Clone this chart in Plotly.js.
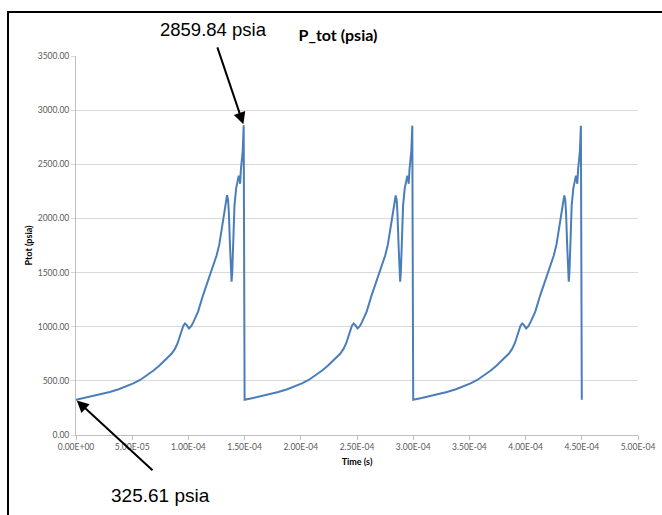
<!DOCTYPE html>
<html>
<head>
<meta charset="utf-8">
<script src="https://cdn.plot.ly/plotly-3.0.1.min.js"></script>
<style>
  html, body { margin: 0; padding: 0; background: #fff; }
  #chart { width: 662px; height: 515px; }
</style>
</head>
<body>
<div id="chart"></div>
<script>
// Time in microseconds, pressure in psia
const cycle1Time = [0, 7.5, 15, 22, 30, 38, 45, 51, 57, 63, 69, 74, 80, 85, 88, 90.5, 93, 95.5, 97, 98.5, 100.5, 102.5, 104.5, 108.6, 113, 117, 120.5, 125, 127.5, 129.5, 132.3, 134.4, 135.3, 136, 137, 138, 138.4, 139, 139.8, 141, 142.5, 144.2, 144.8, 145.5, 146, 146.7, 147.5, 148.3, 149.2];
const cycle1P    = [325.61, 342, 359, 377, 397, 422, 450, 477, 508, 548, 595, 640, 695, 750, 795, 850, 930, 1010, 1030, 1015, 985, 1005, 1045, 1139, 1290, 1410, 1505, 1655, 1760, 1900, 2078, 2215, 2170, 2050, 1750, 1480, 1416, 1500, 1780, 2120, 2280, 2380, 2395, 2360, 2320, 2450, 2540, 2620, 2859.84];

const cycle2Time = [150, 157.5, 165, 172, 180, 188, 195, 201, 207, 213, 219, 224, 230, 235, 238, 240.5, 243, 245.5, 247, 248.5, 250.5, 252.5, 254.5, 258.6, 263, 267, 270.5, 275, 277.5, 279.5, 282.3, 284.4, 285.3, 286, 287, 288, 288.4, 289, 289.8, 291, 292.5, 294.2, 294.8, 295.5, 296, 296.7, 297.5, 298.3, 299.2];
const cycle2P    = [325.61, 342, 359, 377, 397, 422, 450, 477, 508, 548, 595, 640, 695, 750, 795, 850, 930, 1010, 1030, 1015, 985, 1005, 1045, 1139, 1290, 1410, 1505, 1655, 1760, 1900, 2078, 2212, 2170, 2050, 1750, 1480, 1416, 1500, 1780, 2120, 2280, 2380, 2395, 2360, 2320, 2450, 2540, 2620, 2857];

const cycle3Time = [300, 307.5, 315, 322, 330, 338, 345, 351, 357, 363, 369, 374, 380, 385, 388, 390.5, 393, 395.5, 397, 398.5, 400.5, 402.5, 404.5, 408.6, 413, 417, 420.5, 425, 427.5, 429.5, 432.3, 434.4, 435.3, 436, 437, 438, 438.4, 439, 439.8, 441, 442.5, 444.2, 444.8, 445.5, 446, 446.7, 447.5, 448.3, 449.2, 450];
const cycle3P    = [325.61, 342, 359, 377, 397, 422, 450, 477, 508, 548, 595, 640, 695, 750, 795, 850, 930, 1010, 1030, 1015, 985, 1005, 1045, 1139, 1290, 1410, 1505, 1655, 1760, 1900, 2078, 2212, 2170, 2050, 1750, 1480, 1416, 1500, 1780, 2120, 2280, 2380, 2395, 2360, 2320, 2450, 2540, 2620, 2855, 325];

const xTickVals   = [0, 50, 100, 150, 200, 250, 300, 350, 400, 450, 500];
const xTickLabels = ["0.00E+00", "5.00E-05", "1.00E-04", "1.50E-04", "2.00E-04", "2.50E-04", "3.00E-04", "3.50E-04", "4.00E-04", "4.50E-04", "5.00E-04"];
const yTickVals   = [0, 500, 1000, 1500, 2000, 2500, 3000, 3500];

const peakLabel = "2859.84 psia";
const startLabel = "325.61 psia";

const timeUs = cycle1Time.concat(cycle2Time, cycle3Time);
const pressure = cycle1P.concat(cycle2P, cycle3P);

const peakIdx = cycle1P.indexOf(Math.max(...cycle1P));

const trace = {
  x: timeUs,
  y: pressure,
  type: 'scatter',
  mode: 'lines',
  line: { color: '#4A7EBB', width: 2 },
  hoverinfo: 'skip'
};

const tickFont = { family: 'Lato, "Open Sans", sans-serif', size: 8.5, color: '#595959' };
const axisTitleFont = { family: 'Lato, "Open Sans", sans-serif', size: 9, color: '#000000', weight: 'bold' };

const layout = {
  width: 662,
  height: 515,
  margin: { l: 76, r: 24, t: 56, b: 80 },
  paper_bgcolor: '#ffffff',
  plot_bgcolor: '#ffffff',
  showlegend: false,
  title: {
    text: '<b>P_tot (psia)</b>',
    font: { family: 'Lato, "Open Sans", sans-serif', size: 16, color: '#000000' },
    x: 338 / 662,
    xanchor: 'center',
    y: 1 - 35 / 515,
    yanchor: 'middle'
  },
  xaxis: {
    range: [0, 500],
    tickvals: xTickVals,
    ticktext: xTickLabels,
    tickfont: tickFont,
    ticks: 'outside',
    ticklen: 4,
    tickcolor: '#BFBFBF',
    showgrid: false,
    zeroline: false,
    showline: true,
    linecolor: '#BFBFBF',
    linewidth: 1,
    title: { text: '<b>Time (s)</b>', font: axisTitleFont, standoff: 7 }
  },
  yaxis: {
    range: [0, 3500],
    tickvals: yTickVals,
    tickformat: '.2f',
    tickfont: tickFont,
    ticks: 'outside',
    ticklen: 4,
    tickcolor: '#D9D9D9',
    showgrid: true,
    gridcolor: '#D9D9D9',
    gridwidth: 1,
    zeroline: false,
    showline: true,
    linecolor: '#BFBFBF',
    linewidth: 1,
    title: { text: '<b>Ptot (psia)</b>', font: axisTitleFont, standoff: 3 }
  },
  shapes: [
    { type: 'line', xref: 'paper', yref: 'paper', x0: (7 - 76) / 562, x1: (663 - 76) / 562, y0: (435 - 12) / 379, y1: (435 - 12) / 379, line: { color: '#000000', width: 2 } },
    { type: 'line', xref: 'paper', yref: 'paper', x0: (8 - 76) / 562, x1: (8 - 76) / 562, y0: (435 - 12) / 379, y1: (435 - 516) / 379, line: { color: '#000000', width: 2 } }
  ],
  annotations: [
    {
      x: cycle1Time[peakIdx], y: cycle1P[peakIdx], xref: 'x', yref: 'y',
      text: ' ', font: { size: 1 }, showarrow: true,
      ax: -27, ay: -80, arrowhead: 2, arrowsize: 1.2, arrowwidth: 2, arrowcolor: '#000000', standoff: 1
    },
    {
      x: cycle1Time[0], y: cycle1P[0], xref: 'x', yref: 'y',
      text: ' ', font: { size: 1 }, showarrow: true,
      ax: 78, ay: 72, arrowhead: 2, arrowsize: 1.2, arrowwidth: 2, arrowcolor: '#000000', standoff: 1
    },
    {
      xref: 'paper', yref: 'paper', x: (213 - 76) / 562, y: (435 - 30) / 379,
      xanchor: 'center', yanchor: 'middle', showarrow: false,
      text: peakLabel,
      font: { family: '"Liberation Sans", Arial, sans-serif', size: 18.5, color: '#000000' }
    },
    {
      xref: 'paper', yref: 'paper', x: (160 - 76) / 562, y: (435 - 495) / 379,
      xanchor: 'center', yanchor: 'middle', showarrow: false,
      text: startLabel,
      font: { family: '"Liberation Sans", Arial, sans-serif', size: 19, color: '#000000' }
    }
  ]
};

Plotly.newPlot('chart', [trace], layout, { staticPlot: true, displayModeBar: false });
</script>
</body>
</html>
